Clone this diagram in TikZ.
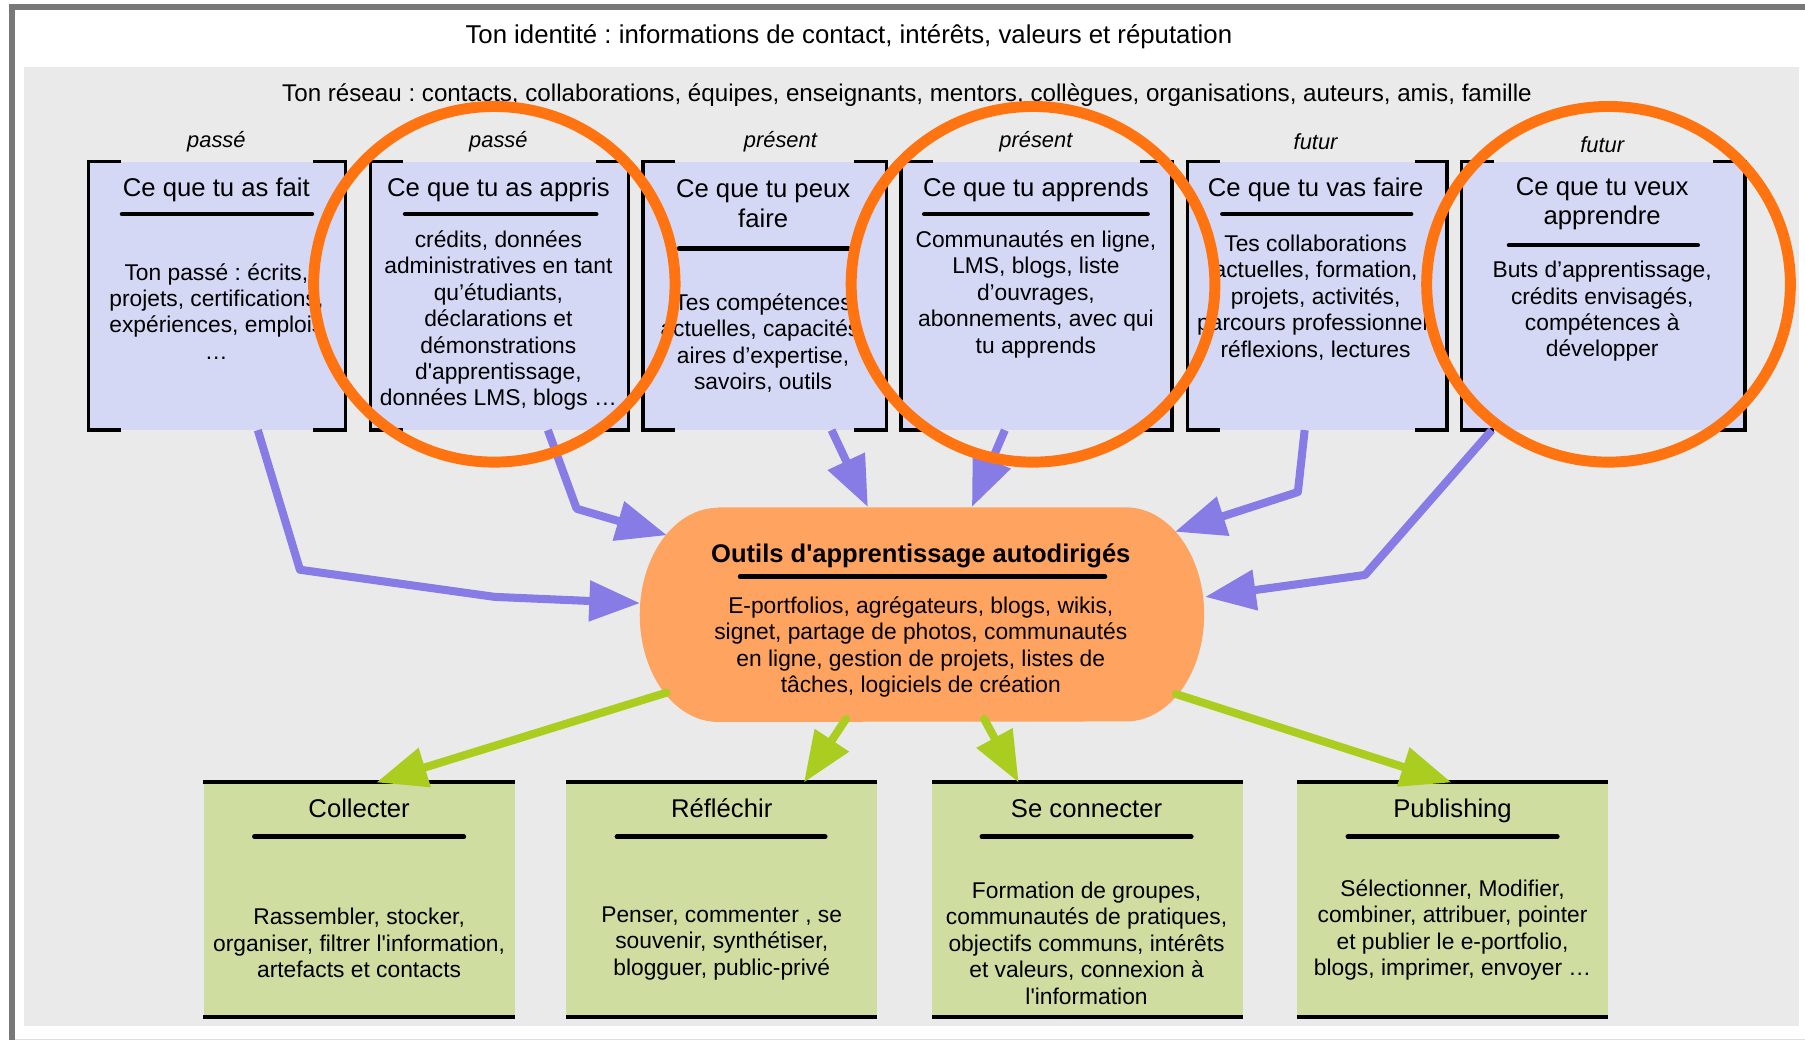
\documentclass[tikz,border=0pt]{standalone}
\usepackage{fontspec}
\setmainfont{Liberation Sans}
\usetikzlibrary{arrows.meta}
\definecolor{lav}{HTML}{D4D8F4}
\definecolor{grn}{HTML}{D0DDA0}
\definecolor{bggray}{HTML}{EAEAEA}
\definecolor{framegray}{HTML}{787878}
\definecolor{purp}{HTML}{877BE6}
\definecolor{lgreen}{HTML}{AACD20}
\definecolor{ringorange}{HTML}{FF7410}
\definecolor{toolfill}{HTML}{FFA360}
\tikzset{
  lbl/.style={font=\fontsize{19}{22}\selectfont\itshape, inner sep=0},
  hdrA/.style={font=\fontsize{22.4}{26}\selectfont, inner sep=0},
  hdrB/.style={font=\fontsize{21}{24}\selectfont, inner sep=0},
  ttl/.style={font=\fontsize{22.3}{26}\selectfont, align=center, inner sep=0},
  boldttl/.style={font=\fontsize{22.2}{26}\selectfont\bfseries, align=center, inner sep=0},
  bodytxt/.style={font=\fontsize{19.8}{23}\selectfont, align=center, inner sep=0},
  topbox/.style={fill=lav, minimum height=233pt, inner sep=0},
  botbox/.style={fill=grn, minimum width=270pt, minimum height=203pt, inner sep=0},
  toolsbox/.style={minimum width=490pt, minimum height=186pt, inner sep=0},
  uline/.style={line width=4pt, line cap=round},
  bracketline/.style={line width=3pt},
  edgeline/.style={line width=3.5pt},
  parrow/.style={draw=purp, line width=7pt, line join=round, -{Triangle[length=44pt,width=34pt]}},
  garrow/.style={draw=lgreen, line width=7pt, line cap=round, -{Triangle[length=44pt,width=34pt]}},
  ring/.style={draw=ringorange, line width=9.5pt},
}
\begin{document}
\frenchspacing
\begin{tikzpicture}[x=1pt,y=-1pt]
\useasboundingbox (0,0) rectangle (1568.2,903.6);
\fill[white] (0,0) rectangle (1568.2,903.6);
% frame and background
\fill[bggray] (21,58) rectangle (1563,891);
\draw[framegray, line width=5.5pt] (10.3,903.6) -- (10.3,6) -- (1568.2,6);
\draw[gray!25, line width=1pt] (13,903) -- (1568.2,903);

\node[hdrA] (ident) at (737.5,32) {Ton identité : informations de contact, intérêts, valeurs et réputation};
\node[hdrB] (reseau) at (788,83) {Ton réseau : contacts, collaborations, équipes, enseignants, mentors, collègues, organisations, auteurs, amis, famille};

% top boxes
\node[topbox, minimum width=223pt] (b1) at (188.5,257) {};
\node[topbox, minimum width=224pt] (b2) at (434,257) {};
\node[topbox, minimum width=211pt] (b3) at (664.5,257) {};
\node[topbox, minimum width=235pt] (b4) at (900.5,257) {};
\node[topbox, minimum width=225pt] (b5) at (1144.5,257) {};
\node[topbox, minimum width=246pt] (b6) at (1393,257) {};
\foreach \b in {b1,b2,b3,b4,b5,b6}{
  \draw[bracketline] ([xshift=28pt]\b.north west) -- (\b.north west) -- (\b.south west) -- ([xshift=28pt]\b.south west);
  \draw[bracketline] ([xshift=-28pt]\b.north east) -- (\b.north east) -- (\b.south east) -- ([xshift=-28pt]\b.south east);
}
\node[lbl] (l1) at (188,123) {passé};
\node[lbl] (l2) at (433,123) {passé};
\node[lbl] (l3) at (678,123) {présent};
\node[lbl] (l4) at (900,123) {présent};
\node[lbl] (l5) at (1143,123) {futur};
\node[lbl] (l6) at (1392,126) {futur};

\node[ttl, anchor=base] (t1) at (188,171) {Ce que tu as fait};
\node[ttl, anchor=base] (t2) at (433,171) {Ce que tu as appris};
\node[ttl] (t3) at (663,177) {Ce que tu peux\\faire};
\node[ttl, anchor=base] (t4) at (900,171) {Ce que tu apprends};
\node[ttl, anchor=base] (t5) at (1143,171) {Ce que tu vas faire};
\node[ttl] (t6) at (1392,177) {Ce que tu veux\\apprendre};
\draw[uline] (106,186) -- (271,186);
\draw[uline] (352,186) -- (518,186);
\draw[uline] (590,216) -- (737,216);
\draw[uline] (803,186) -- (997,186);
\draw[uline] (1062,186) -- (1226,186);
\draw[uline] (1311,213) -- (1475,213);

\node[bodytxt] (x1) at (188,270.5) {Ton passé : écrits,\\projets, certifications,\\expériences, emplois\\…};
\node[bodytxt] (x2) at (433,278.5) {crédits, données\\administratives en tant\\qu’étudiants,\\déclarations et\\démonstrations\\d\textquotesingle{}apprentissage,\\données LMS, blogs …};
\node[bodytxt] (x3) at (663,298) {Tes compétences\\actuelles, capacités,\\aires d’expertise,\\savoirs, outils};
\node[bodytxt] (x4) at (900,255.5) {Communautés en ligne,\\LMS, blogs, liste\\d’ouvrages,\\abonnements, avec qui\\tu apprends};
\node[bodytxt] (x5) at (1143,258.5) {Tes collaborations\\actuelles, formation,\\projets, activités,\\parcours professionnel,\\réflexions, lectures};
\node[bodytxt] (x6) at (1392,270.5) {Buts d’apprentissage,\\crédits envisagés,\\compétences à\\développer};

% central tools node
\node[toolsbox] (tools) at (801,534) {};
\fill[toolfill] ([xshift=68pt]tools.north west) -- ([xshift=-68pt]tools.north east)
  arc[start angle=-90, end angle=90, x radius=68, y radius=93]
  -- ([xshift=68pt]tools.south west)
  arc[start angle=90, end angle=270, x radius=68, y radius=93] -- cycle;
\node[boldttl, anchor=base] (tt) at (800,489) {Outils d\textquotesingle{}apprentissage autodirigés};
\draw[uline] (643,501) -- (960,501);
\node[bodytxt] (tb) at (800,562) {E-portfolios, agrégateurs, blogs, wikis,\\signet, partage de photos, communautés\\en ligne, gestion de projets, listes de\\tâches, logiciels de création};

% bottom boxes
\node[botbox] (bA) at (312,781.5) {};
\node[botbox] (bB) at (627,781.5) {};
\node[botbox] (bC) at (945,781.5) {};
\node[botbox] (bD) at (1262,781.5) {};
\foreach \b in {bA,bB,bC,bD}{
  \draw[edgeline] (\b.north west) -- (\b.north east);
  \draw[edgeline] (\b.south west) -- (\b.south east);
}
\node[ttl, anchor=base] (tA) at (312,710) {Collecter};
\node[ttl, anchor=base] (tB) at (627,710) {Réfléchir};
\node[ttl, anchor=base] (tC) at (944,710) {Se connecter};
\node[ttl, anchor=base] (tD) at (1262,710) {Publishing};
\draw[uline] (221,727) -- (403,727);
\draw[uline] (536,727) -- (717,727);
\draw[uline] (853,727) -- (1035,727);
\draw[uline] (1171,727) -- (1353,727);
\node[bodytxt] (xA) at (312,819.5) {Rassembler, stocker,\\organiser, filtrer l\textquotesingle{}information,\\artefacts et contacts};
\node[bodytxt] (xB) at (627,819.5) {Penser, commenter , se\\souvenir, synthétiser,\\blogguer, public-privé};
\node[bodytxt] (xC) at (944,819.5) {Formation de groupes,\\communautés de pratiques,\\objectifs communs, intérêts\\et valeurs, connexion à\\l\textquotesingle{}information};
\node[bodytxt] (xD) at (1262,808) {Sélectionner, Modifier,\\combiner, attribuer, pointer\\et publier le e-portfolio,\\blogs, imprimer, envoyer …};

% purple arrows into tools
\draw[parrow] ([xshift=35.5pt]b1.south) -- (260.6,495) -- (430,518.6) -- ([shift={(-245,-10)}]tools.center);
\draw[parrow] ([xshift=42pt]b2.south) -- (501,442) -- ([shift={(-221.5,-69)}]tools.center);
\draw[parrow] ([xshift=58pt]b3.south) -- ([shift={(-47,-93.5)}]tools.center);
\draw[parrow] ([xshift=-27.5pt]b4.south) -- ([shift={(43.4,-93.5)}]tools.center);
\draw[parrow] ([xshift=-11pt]b5.south) -- (1127.6,427.5) -- ([shift={(219.8,-72)}]tools.center);
\draw[parrow] ([xshift=-97pt]b6.south) -- (1186,499.5) -- ([shift={(246,-15.4)}]tools.center);

% green arrows out of tools
\draw[garrow] ([shift={(-222,67.8)}]tools.center) -- ([xshift=15pt]bA.north);
\draw[garrow] ([shift={(-66,90.6)}]tools.center) -- ([xshift=71.5pt]bB.north);
\draw[garrow] ([shift={(54,90.6)}]tools.center) -- ([xshift=-60pt]bC.north);
\draw[garrow] ([shift={(220.7,69)}]tools.center) -- ([xshift=-1pt]bD.north);

% orange rings
\draw[ring] (429.5,247) ellipse [x radius=157, y radius=154.5];
\draw[ring] (897.5,247) ellipse [x radius=158, y radius=154.5];
\draw[ring] (1397.5,247) ellipse [x radius=158, y radius=154.5];
\end{tikzpicture}
\end{document}
